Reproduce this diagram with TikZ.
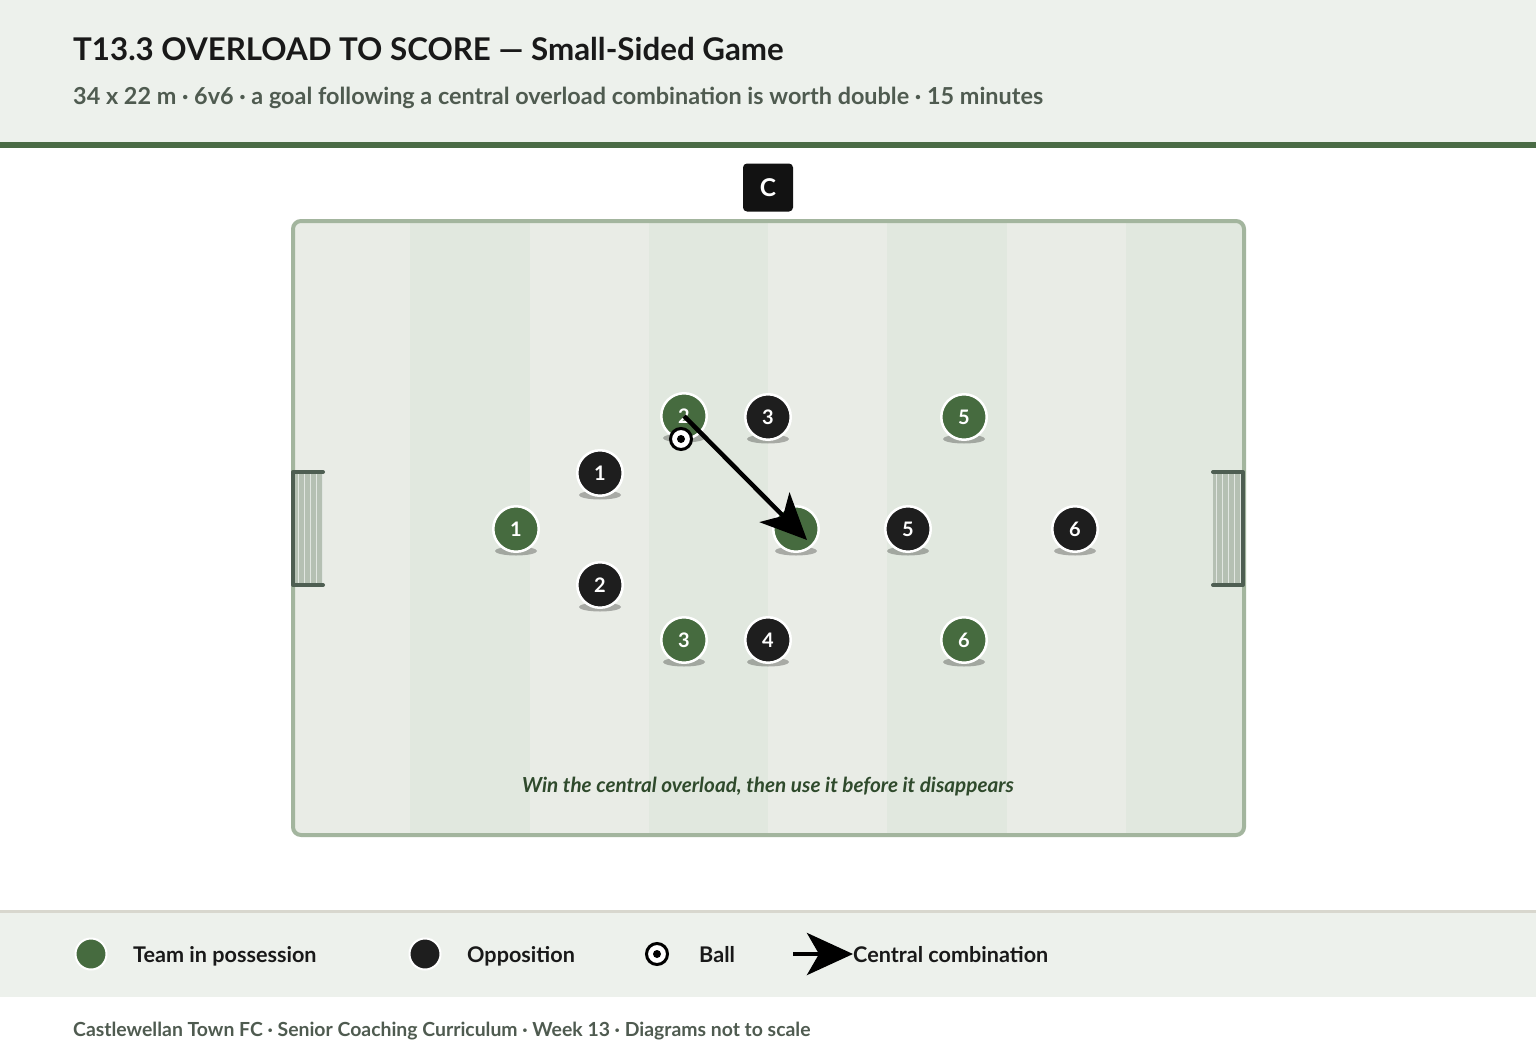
\documentclass[tikz,border=0pt]{standalone}
\usepackage{fontspec}
\setmainfont{Lato}
\usepackage{tikz}
\usetikzlibrary{positioning, arrows.meta, calc}

\definecolor{headbg}{HTML}{EDF1EC}
\definecolor{clubgreen}{HTML}{4A6B45}
\definecolor{playergreen}{HTML}{466B3F}
\definecolor{playerblack}{HTML}{1E1E1E}
\definecolor{stripelight}{HTML}{E9ECE6}
\definecolor{stripedark}{HTML}{E1E8DF}
\definecolor{pitchline}{HTML}{A3B59E}
\definecolor{goalpost}{HTML}{4E5E52}
\definecolor{goalnet}{HTML}{B5C0B3}
\definecolor{subgrey}{HTML}{4F5B50}
\definecolor{captiongreen}{HTML}{2F4A2C}
\definecolor{legendline}{HTML}{D8D7CE}

\begin{document}
\begin{tikzpicture}[x=1pt, y=-1pt,
	team/.style={circle, draw=white, line width=2.5pt, minimum size=45.5pt, inner sep=0pt,
		fill=playergreen, text=white, font=\fontsize{20}{20}\selectfont\bfseries},
	opp/.style={team, fill=playerblack},
	shade under/.style={black, opacity=0.28},
	ballmark/.style={circle, draw=black, line width=3pt, fill=white, minimum size=21pt, inner sep=0pt},
	combo/.style={line width=4.5pt, -{Stealth[length=46pt, width=42pt, inset=12pt]}},
	keytext/.style={anchor=base west, inner sep=0pt, text=black!90, font=\fontsize{21.6}{21.6}\selectfont\bfseries}]
		
		% Page and header
		\useasboundingbox (0,0) rectangle (1536,1054);
		\fill[white] (0,0) rectangle (1536,1054);
		\fill[headbg] (0,0) rectangle (1536,142);
		\fill[clubgreen] (0,142) rectangle (1536,148);
		\node[anchor=base west, inner sep=0pt, text=black!90, font=\fontsize{31.3}{31.3}\selectfont\bfseries] (title) at (73,61) {T13.3 OVERLOAD TO SCORE — Small-Sided Game};
		\node[anchor=base west, inner sep=0pt, text=subgrey, font=\fontsize{23.4}{23.4}\selectfont\bfseries] (subtitle) at (73,105) {34 x 22 m · 6v6 · a goal following a central overload combination is worth double · 15 minutes};
		
		% Coach
		\node[fill=black!93, rounded corners=4pt, minimum width=50pt, minimum height=48pt, inner sep=0pt, text=white, font=\fontsize{24.5}{24.5}\selectfont\bfseries] (coach) at (768,187.5) {C};
		
		% Pitch with stripes
		\begin{scope}
			\clip[rounded corners=8pt] (293,221) rectangle (1244,835);
			\foreach \i in {0,...,7} {
				\pgfmathsetmacro{\xa}{291+119.25*\i}
				\pgfmathsetmacro{\xb}{291+119.25*(\i+1)}
				\ifodd\i \fill[stripedark] (\xa,221) rectangle (\xb,835);
				\else \fill[stripelight] (\xa,221) rectangle (\xb,835); \fi
			}
		\end{scope}
		\draw[pitchline, line width=4pt, rounded corners=8pt] (293,221) rectangle (1244,835);
		
		% Goals
		\fill[goalnet] (295,474) rectangle (323,584);
		\foreach \x in {298,304,...,322}
		\draw[white!60!goalnet, line width=1pt] (\x,474) -- (\x,584);
		\draw[goalpost, line width=4pt, line cap=round, line join=round] (323,472) -- (293,472) -- (293,585) -- (323,585);
		
		\fill[goalnet] (1213,474) rectangle (1241,584);
		\foreach \x in {1216,1222,...,1240}
		\draw[white!60!goalnet, line width=1pt] (\x,474) -- (\x,584);
		\draw[goalpost, line width=4pt, line cap=round, line join=round] (1213,472) -- (1243,472) -- (1243,585) -- (1213,585);
		
		% Team in possession
		\foreach \n/\px/\py in {1/516/529, 2/684/416, 3/684/640, 4/796/529, 5/964/417, 6/964/640} {
			\fill[shade under] (\px,\py+22) ellipse [x radius=21, y radius=4.5];
			\node[team] (g\n) at (\px,\py) {\n};
		}
		
		% Opposition
		\foreach \n/\px/\py in {1/600/473, 2/600/585, 3/768/417, 4/768/640, 5/908/529, 6/1075/529} {
			\fill[shade under] (\px,\py+22) ellipse [x radius=21, y radius=4.5];
			\node[opp] (o\n) at (\px,\py) {\n};
		}
		
		% Ball
		\node[ballmark] (ball) at (681,439) {};
		\fill[black] (ball.center) circle [radius=4];
		
		% Central combination
		\coordinate (passtip) at ($(g4)+(11,11)$);
		\draw[combo] (g2.center) -- (passtip);
		
		\node[text=captiongreen, font=\fontsize{20.7}{20.7}\selectfont\bfseries\itshape] (caption) at (768,786.5) {Win the central overload, then use it before it disappears};
		
		% Legend
		\fill[legendline] (0,909.5) rectangle (1536,913);
		\fill[headbg] (0,913) rectangle (1536,997);
		\node[team, minimum size=31pt, line width=2pt] (keyteam) at (91,954) {};
		\node[keytext] (keyteamtext) at (133,962.5) {Team in possession};
		\node[opp, minimum size=31pt, line width=2pt] (keyopp) at (425,954) {};
		\node[keytext] (keyopptext) at (467,962.5) {Opposition};
		\node[ballmark] (keyball) at (657,954) {};
		\fill[black] (keyball.center) circle [radius=4];
		\node[keytext] (keyballtext) at (699,962.5) {Ball};
		\coordinate (keyarrow) at (793,954);
		\coordinate (keyarrowtip) at (853,954);
		\draw[combo] (keyarrow) -- (keyarrowtip);
		\node[keytext] (keycombotext) at (853,962.5) {Central combination};
		
		% Footer
		\node[anchor=base west, inner sep=0pt, text=subgrey, font=\fontsize{19.4}{19.4}\selectfont\bfseries] (footer) at (73,1036) {Castlewellan Town FC · Senior Coaching Curriculum · Week 13 · Diagrams not to scale};
		
	\end{tikzpicture}
\end{document}
